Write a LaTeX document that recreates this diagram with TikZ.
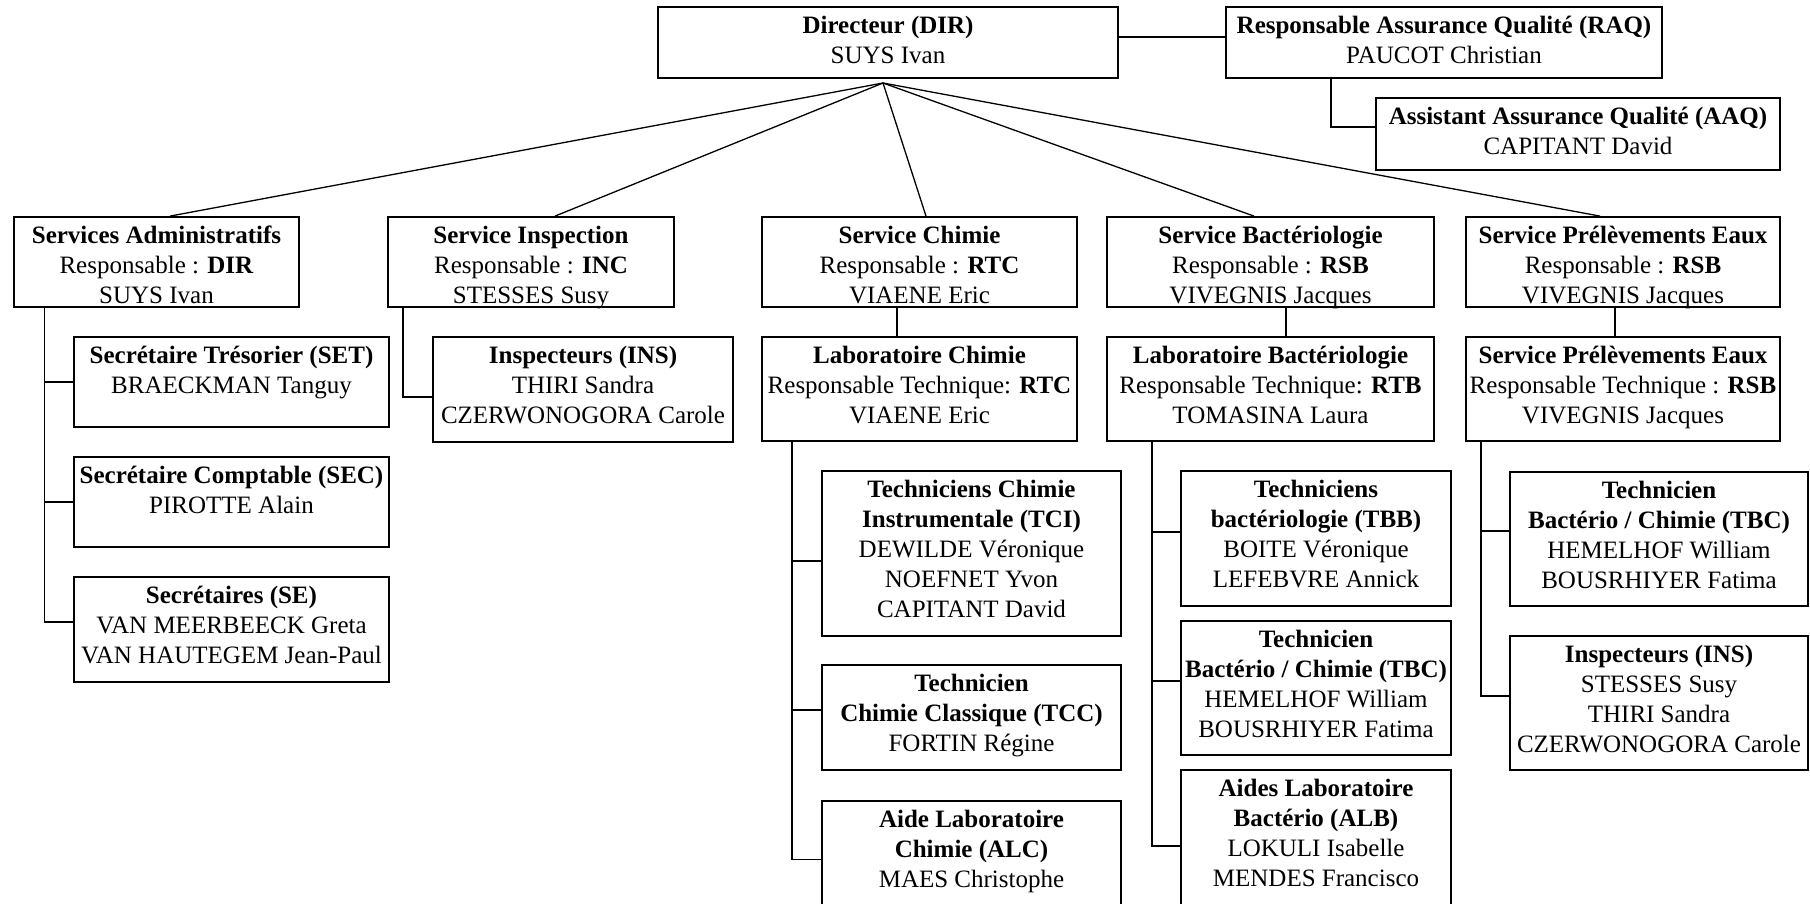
\documentclass[tikz,border=0pt]{standalone}
\usepackage{fontspec}
\setmainfont{Liberation Serif}
\usetikzlibrary{fit}
\tikzset{
  box/.style={draw, line width=1.8pt, inner sep=0pt},
  txt/.style={inner sep=0pt, align=center, font=\fontsize{25}{30}\selectfont},
  link/.style={line width=1.3pt},
}
\newcommand\orgbox[6]{%
  \node[box, fit={(#2,#3) (#4,#5)}] (#1) {};
  \node[txt, anchor=north, yshift=-6.5pt] (#1-txt) at (#1.north) {\strut #6};
}
\begin{document}
\begin{tikzpicture}[x=1pt,y=-1pt]
\path[use as bounding box] (0,0) rectangle (1810,903);
\clip (0,0) rectangle (1810,903);

% top level
\orgbox{dir}{658}{7}{1118}{78}{\textbf{Directeur (DIR)}\\SUYS Ivan}
\orgbox{raq}{1226}{7}{1662}{78}{\textbf{Responsable Assurance Qualité (RAQ)}\\PAUCOT Christian}
\orgbox{aaq}{1376}{98}{1780}{170}{\textbf{Assistant Assurance Qualité (AAQ)}\\CAPITANT David}

% services
\orgbox{sa}{14}{217}{299}{307}{\textbf{Services Administratifs}\\Responsable : \textbf{DIR}\\SUYS Ivan}
\orgbox{si}{388}{217}{674}{307}{\textbf{Service Inspection}\\Responsable : \textbf{INC}\\STESSES Susy}
\orgbox{sc}{762}{217}{1077}{307}{\textbf{Service Chimie}\\Responsable : \textbf{RTC}\\VIAENE Eric}
\orgbox{sb}{1107}{217}{1434}{307}{\textbf{Service Bactériologie}\\Responsable : \textbf{RSB}\\VIVEGNIS Jacques}
\orgbox{spe}{1466}{217}{1780}{307}{\textbf{Service Prélèvements Eaux}\\Responsable : \textbf{RSB}\\VIVEGNIS Jacques}

% administratif
\orgbox{tres}{74}{337}{389}{427}{\textbf{Secrétaire Trésorier (SET)}\\BRAECKMAN Tanguy}
\orgbox{compt}{74}{457}{389}{547}{\textbf{Secrétaire Comptable (SEC)}\\PIROTTE Alain}
\orgbox{secr}{74}{577}{389}{682}{\textbf{Secrétaires (SE)}\\VAN MEERBEECK Greta\\VAN HAUTEGEM Jean-Paul}

% inspection
\orgbox{insa}{433}{337}{733}{442}{\textbf{Inspecteurs (INS)}\\THIRI Sandra\\CZERWONOGORA Carole}

% labs
\orgbox{lc}{762}{337}{1077}{441}{\textbf{Laboratoire Chimie}\\Responsable Technique: \textbf{RTC}\\VIAENE Eric}
\orgbox{lb}{1107}{337}{1434}{441}{\textbf{Laboratoire Bactériologie}\\Responsable Technique: \textbf{RTB}\\TOMASINA Laura}
\orgbox{spetwo}{1466}{337}{1780}{441}{\textbf{Service Prélèvements Eaux}\\Responsable Technique : \textbf{RSB}\\VIVEGNIS Jacques}

% chimie staff
\orgbox{tci}{822}{471}{1121}{636}{\textbf{Techniciens Chimie}\\\textbf{Instrumentale (TCI)}\\DEWILDE Véronique\\NOEFNET Yvon\\CAPITANT David}
\orgbox{tcc}{822}{665}{1121}{770}{\textbf{Technicien}\\\textbf{Chimie Classique (TCC)}\\FORTIN Régine}
\orgbox{alc}{822}{801}{1121}{940}{\textbf{Aide Laboratoire}\\\textbf{Chimie (ALC)}\\MAES Christophe}

% bacterio staff
\orgbox{tbb}{1181}{471}{1451}{606}{\textbf{Techniciens}\\\textbf{bactériologie (TBB)}\\BOITE Véronique\\LEFEBVRE Annick}
\orgbox{tbca}{1181}{621}{1451}{755}{\textbf{Technicien}\\\textbf{Bactério / Chimie (TBC)}\\HEMELHOF William\\BOUSRHIYER Fatima}
\orgbox{alb}{1181}{770}{1451}{940}{\textbf{Aides Laboratoire}\\\textbf{Bactério (ALB)}\\LOKULI Isabelle\\MENDES Francisco}

% prelevements staff
\orgbox{tbcb}{1510}{472}{1808}{606}{\textbf{Technicien}\\\textbf{Bactério / Chimie (TBC)}\\HEMELHOF William\\BOUSRHIYER Fatima}
\orgbox{insb}{1510}{636}{1808}{770}{\textbf{Inspecteurs (INS)}\\STESSES Susy\\THIRI Sandra\\CZERWONOGORA Carole}

% connectors top
\draw[link] ([yshift=5.5pt]dir.east) -- ([yshift=5.5pt]raq.west);
\draw[link] ([xshift=-113pt]raq.south) |- ([yshift=7pt]aaq.west);

\coordinate (hub) at (883,83);
\draw[link] (hub) -- ([xshift=13.5pt]sa.north);
\draw[link] (hub) -- ([xshift=24pt]si.north);
\draw[link] (hub) -- ([xshift=6.5pt]sc.north);
\draw[link] (hub) -- ([xshift=-16.5pt]sb.north);
\draw[link] (hub) -- ([xshift=-23pt]spe.north);

\draw[link] ([xshift=-22.5pt]sc.south) -- ([xshift=-22.5pt]lc.north);
\draw[link] ([xshift=15.5pt]sb.south) -- ([xshift=15.5pt]lb.north);
\draw[link] ([xshift=-8pt]spe.south) -- ([xshift=-8pt]spetwo.north);

% trunks
\draw[link] ([xshift=-112pt]sa.south) |- (tres.west);
\draw[link] ([xshift=-112pt]sa.south) |- (compt.west);
\draw[link] ([xshift=-112pt]sa.south) |- ([yshift=7.5pt]secr.west);

\draw[link] ([xshift=-128pt]si.south) |- ([yshift=-7.5pt]insa.west);

\draw[link] ([xshift=-127.5pt]lc.south) |- ([yshift=-7.5pt]tci.west);
\draw[link] ([xshift=-127.5pt]lc.south) |- ([yshift=7.5pt]tcc.west);
\draw[link] ([xshift=-127.5pt]lc.south) |- ([yshift=11pt]alc.west);

\draw[link] ([xshift=-118.5pt]lb.south) |- ([yshift=6.5pt]tbb.west);
\draw[link] ([xshift=-118.5pt]lb.south) |- ([yshift=7pt]tbca.west);
\draw[link] ([xshift=-118.5pt]lb.south) |- ([yshift=9pt]alb.west);

\draw[link] ([xshift=-142pt]spetwo.south) |- ([yshift=8pt]tbcb.west);
\draw[link] ([xshift=-142pt]spetwo.south) |- ([yshift=7pt]insb.west);
\end{tikzpicture}
\end{document}
